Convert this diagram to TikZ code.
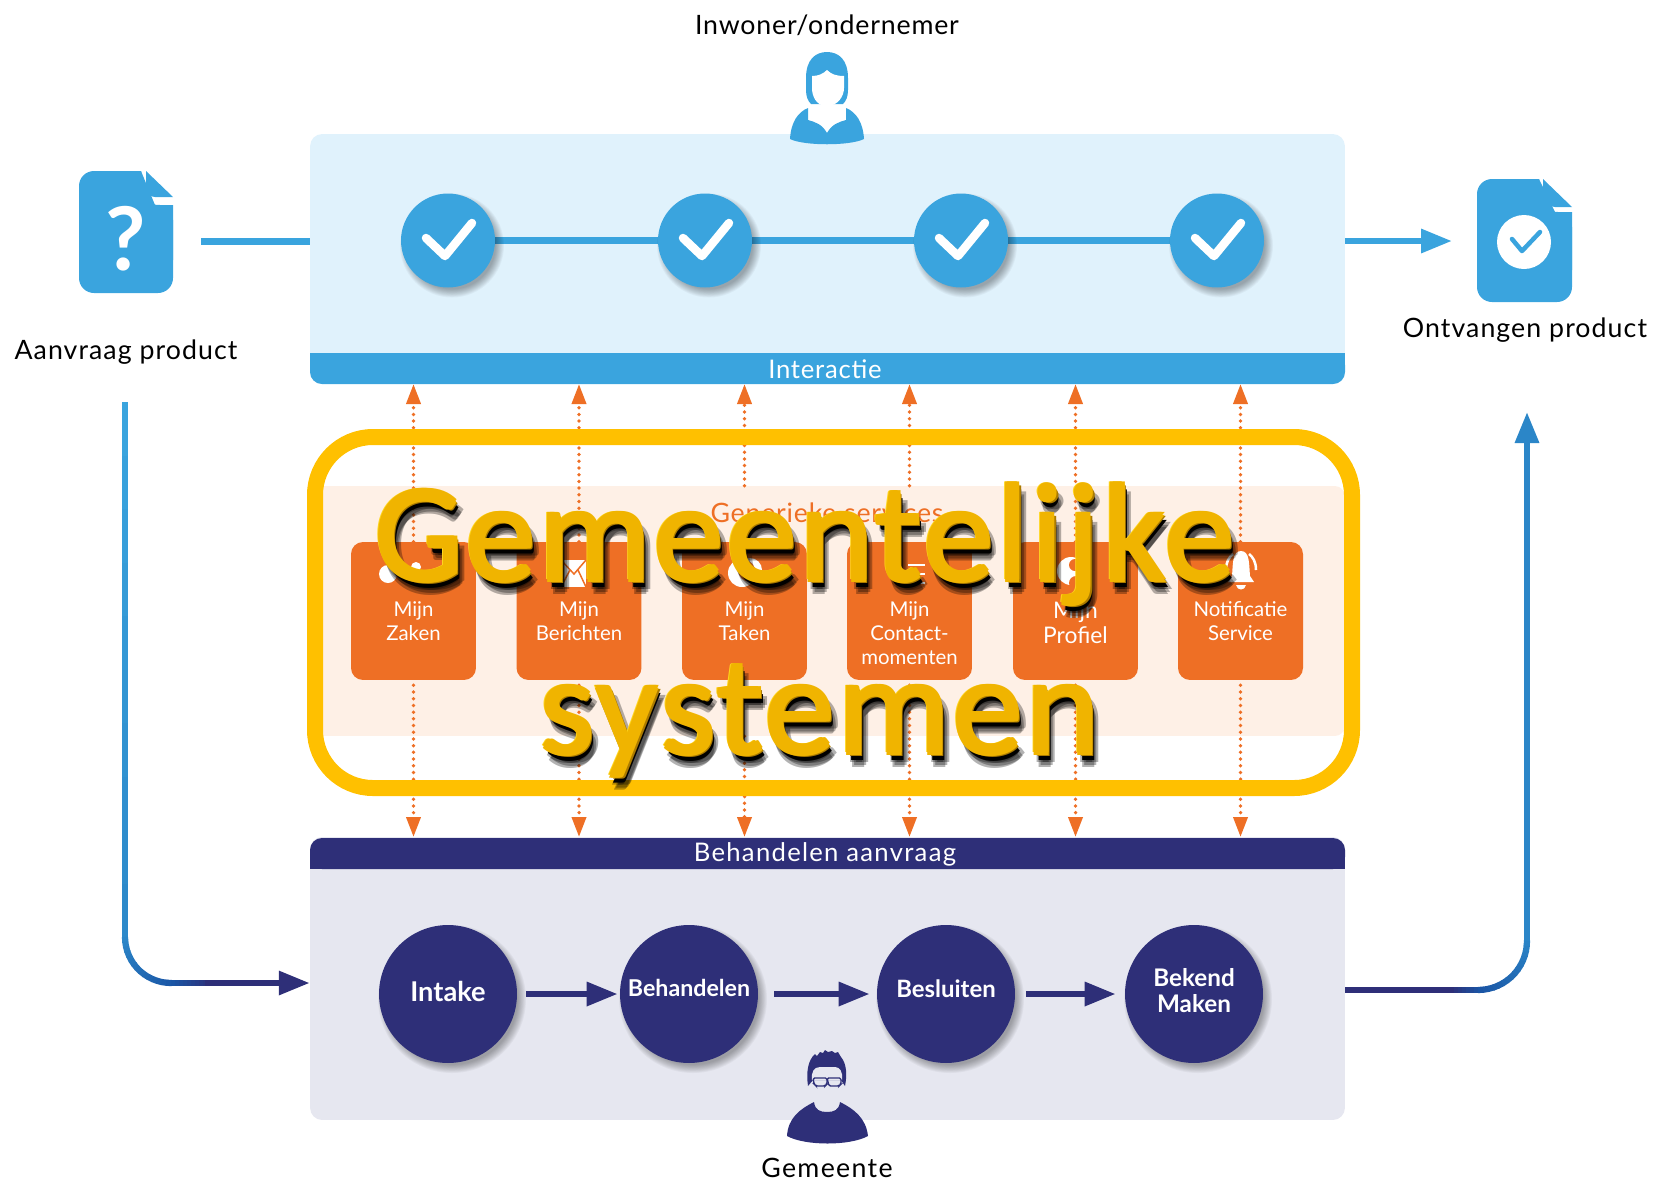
\documentclass[tikz,border=0pt]{standalone}
\usepackage{fontspec}
\setmainfont{Lato}
\newfontfamily\bigfont[LetterSpace=2]{Carlito}
\newfontfamily\sptA[LetterSpace=3]{Lato}
\newfontfamily\sptB[LetterSpace=4]{Lato}
\newfontfamily\sptC[LetterSpace=5]{Lato}
\usetikzlibrary{arrows.meta,calc}
\definecolor{ablue}{HTML}{3AA4DE}
\definecolor{alight}{HTML}{E0F2FC}
\definecolor{anavy}{HTML}{2E2F78}
\definecolor{apale}{HTML}{E6E7F0}
\definecolor{aorange}{HTML}{EE6F25}
\definecolor{apeach}{HTML}{FEF0E6}
\definecolor{agold}{HTML}{FFC000}
\definecolor{amid}{HTML}{2B86C8}
\definecolor{adeep}{HTML}{1A55A5}
\pgfdeclarelayer{background}\pgfdeclarelayer{conn}\pgfdeclarelayer{top}
\pgfsetlayers{background,conn,main,top}
\newcommand{\fs}[1]{\fontsize{#1}{#1}\selectfont}
\tikzset{
  x=0.02cm,y=-0.02cm,
  label text/.style={text=black,font=\fs{15.2},inner sep=0},
  service/.style={rectangle,fill=aorange,rounded corners=0.24cm,minimum width=2.5cm,minimum height=2.76cm,inner sep=0},
  service text/.style={text=white,font=\fs{11.6},align=center,inner sep=0},
  checkdisc/.style={circle,fill=ablue,minimum size=1.88cm,inner sep=0},
  stepdisc/.style={circle,fill=anavy,minimum size=2.76cm,inner sep=0,text=white,align=center,font=\fs{14.2}\bfseries},
  bandtext/.style={text=white,font=\fs{14.6},inner sep=0},
  dotlink/.style={aorange,line width=0.075cm,dash pattern=on 0pt off 0.134cm,line cap=round},
  tip1/.style={-{Triangle[length=0.4cm,width=0.28cm,fill=aorange]}},
  flow/.style={line width=0.125cm},
  bighead/.style={-{Triangle[length=0.62cm,width=0.46cm]}},
  bigtext/.style={font=\bigfont\fs{80},inner sep=0,anchor=base},
}
\newcommand{\softshadow}[3]{% x y r
  \foreach \k in {0,...,9}{
    \fill[black,opacity=0.035] (#1+4,#2+5) circle ({(#3+5-\k*0.9)*0.02cm});
  }
}
\newcommand{\bigword}[4]{% x y text name
  \foreach \dx/\dy in {2/8,6/11,8/8,4/13}{
    \node[bigtext,text=black,text opacity=0.3] at (#1+\dx,#2+\dy) {#3};
  }
  \node[bigtext,text=black] at (#1+3.5,#2+6.5) {#3};
  \node[bigtext,text={rgb,255:red,170;green,122;blue,0}] at (#1+2.6,#2+2.6) {#3};
  \node[bigtext,text={rgb,255:red,255;green,214;blue,30}] at (#1-2.4,#2-2) {#3};
  \foreach \dx/\dy in {-1.4/-1.2,1.4/-1.2,-1.4/1.2}{
    \node[bigtext,text={rgb,255:red,240;green,180;blue,0}] at (#1+\dx,#2+\dy) {#3};
  }
  \node[bigtext,text={rgb,255:red,240;green,180;blue,0}] (#4) at (#1+1.4,#2+1.2) {#3};
}
\begin{document}
\begin{tikzpicture}
\useasboundingbox (0,0) rectangle (1654,1181);

%---------- panels
\begin{pgfonlayer}{background}
\node[rectangle,fill=alight,rounded corners=0.24cm,minimum width=20.7cm,minimum height=5cm,inner sep=0] (interact) at (827.5,259) {};
\node[rectangle,fill=apeach,rounded corners=0.2cm,minimum width=20.7cm,minimum height=5cm,inner sep=0] (generic) at (827.5,611) {};
\node[rectangle,fill=apale,rounded corners=0.24cm,minimum width=20.7cm,minimum height=5.66cm,inner sep=0] (handle) at (827.5,978.5) {};
\fill[ablue,rounded corners=0.24cm] (310,353) -- (310,384) -- (1345,384) -- (1345,353) -- cycle;
\fill[ablue] (310,353) rectangle (1345,365);
\fill[anavy,rounded corners=0.24cm] (310,869) -- (310,838) -- (1345,838) -- (1345,869) -- cycle;
\fill[anavy] (310,869) rectangle (1345,855);
\end{pgfonlayer}
\node[bandtext,font=\sptA\fs{14.6}] (intband) at (825,369) {Interactie};
\node[bandtext,font=\sptC\fs{14.6}] (behband) at (825,854.5) {Behandelen aanvraag};
\coordinate (inttop) at (0,384);
\coordinate (behtop) at (0,837);

%---------- outer labels
\node[label text,font=\sptA\fs{15.2}] (inwoner) at (827,25) {Inwoner/ondernemer};
\node[label text,font=\sptB\fs{15.2}] (aanvraag) at (126,352) {Aanvraag product};
\node[label text,font=\sptB\fs{15.2}] (ontvangen) at (1525,330) {Ontvangen product};
\node[label text,font=\sptC\fs{15.2}] (gemeente) at (827,1168) {Gemeente};
\node[text=aorange,font=\sptA\fs{15.2},inner sep=0] (generiek) at (827,513) {Generieke services};

%---------- check discs
\foreach \n/\x in {1/448,2/705,3/961,4/1217}{
  \node[checkdisc] (c\n) at (\x,240.5) {};
  \draw[white,line width=0.17cm,line cap=round,line join=round]
    (\x-22,240-2) -- (\x-3,240+16) -- (\x+24,240-17);
}

%---------- step discs
\node[stepdisc] (s1) at (448,994) {\raisebox{3pt}{\fs{15.5}Intake}};
\node[stepdisc,font=\fs{13.2}\bfseries] (s2) at (689,994) {\raisebox{6.5pt}{Behandelen}};
\node[stepdisc,font=\fs{13.6}\bfseries] (s3) at (946,994) {\raisebox{6.5pt}{Besluiten}};
\node[stepdisc,font=\fs{13.8}\bfseries] (s4) at (1194,994) {\raisebox{4pt}{\begin{tabular}{@{}c@{}}Bekend\\[0.2pt]Maken\end{tabular}}};

%---------- services
\node[service] (m1) at (413.5,611) {};
\node[service] (m2) at (579,611) {};
\node[service] (m3) at (744.5,611) {};
\node[service] (m4) at (909.5,611) {};
\node[service] (m5) at (1075.5,611) {};
\node[service] (m6) at (1240.5,611) {};
\node[service text] at (413.5,621) {Mijn\\[2.2pt]Zaken};
\node[service text] at (579,621) {Mijn\\[2.2pt]Berichten};
\node[service text] at (744.5,621) {Mijn\\[2.2pt]Taken};
\node[service text] at (909.5,633) {Mijn\\[2.2pt]Contact-\\[2.2pt]momenten};
\node[service text,font=\fs{13}] at (1075.5,622.5) {Mijn\\[1pt]Profiel};
\node[service text] at (1240.5,621) {Notificatie\\[2.2pt]Service};

% service icons (mostly hidden by the heading)
\fill[white] (388,574) circle (0.18cm);
\fill[white] (416,567) circle (0.1cm);
\fill[white] (561,560) rectangle (586,587);
\draw[aorange,line width=0.03cm] (561,560) -- (574,574) -- (586,560) (561,587) -- (570,570) (586,587) -- (578,570);
\fill[white,even odd rule] (742,573) circle (0.28cm) (750,570) circle (0.24cm);
\foreach \yy in {565,574,583}{\fill[white] (908,\yy-1) rectangle (925,\yy+1);}
\fill[white] (1071,571) circle (0.28cm);
\fill[aorange] (1075,565) circle (0.12cm);
\fill[aorange] (1076,583) circle (0.14cm);
\fill[white] (1241,551) .. controls (1232,551) and (1233,565) .. (1232,576) -- (1228,582) -- (1254,582) -- (1250,576) .. controls (1249,565) and (1250,551) .. (1241,551) -- cycle;
\fill[white] (1236,585) .. controls (1237,591) and (1245,591) .. (1246,585) -- cycle;
\draw[white,line width=0.05cm] (1226,570) .. controls (1226,562) and (1229,557) .. (1233,554);
\draw[white,line width=0.05cm] (1256,570) .. controls (1256,562) and (1253,557) .. (1249,554);

%---------- documents
\fill[ablue,rounded corners=0.3cm] (141,171) -- (79,171) -- (79,293) -- (173,293) -- (173,205) -- (155,205);
\fill[ablue] (173,205) -- (160,205) .. controls (148,205) and (141,199) .. (141,190) -- (141,171) -- (110,171) -- (110,260) -- (173,260) -- cycle;
\fill[ablue] (146,171) -- (173,197) -- (155,197) .. controls (150,197) and (146,193) .. (146,188) -- cycle;
\node[text=white,font=\fs{50}\bfseries,inner sep=0] (qmark) at (126,239) {?};

\fill[ablue,rounded corners=0.3cm] (1539,179) -- (1477,179) -- (1477,302) -- (1572,302) -- (1572,212) -- (1555,212);
\fill[ablue] (1572,212) -- (1558,212) .. controls (1546,212) and (1539,206) .. (1539,197) -- (1539,179) -- (1510,179) -- (1510,270) -- (1572,270) -- cycle;
\fill[ablue] (1543,179) -- (1572,207) -- (1555,207) .. controls (1548,207) and (1543,202) .. (1543,195) -- cycle;
\fill[white] (1524,242) circle (0.54cm);
\draw[ablue,line width=0.09cm,line cap=round,line join=round] (1512,239) -- (1522,251) -- (1540,232);

%---------- persons
\fill[ablue] (806,78) .. controls (806,60) and (815,52) .. (827,52) .. controls (839,52) and (848,60) .. (848,78) -- (848,90) .. controls (848,97) and (846,101) .. (843,104) -- (811,104) .. controls (808,101) and (806,97) .. (806,90) -- cycle;
\fill[white] (812,76) .. controls (818,76) and (823,74) .. (827,70) .. controls (831,74) and (836,76) .. (844,76) -- (844,88) .. controls (844,96) and (838,106) .. (827,106) .. controls (816,106) and (812,96) .. (812,88) -- cycle;
\fill[ablue] (790,139) .. controls (791,122) and (798,112) .. (808,108) -- (808,120) .. controls (815,122) and (822,124) .. (827,133) .. controls (832,124) and (839,122) .. (846,120) -- (846,108) .. controls (856,112) and (863,122) .. (864,139) .. controls (850,146) and (804,146) .. (790,139) -- cycle;

\fill[anavy] (808,1086) .. controls (806,1072) and (808,1060) .. (815,1054) -- (817,1056) -- (820,1052) -- (823,1053) -- (825,1050) -- (828,1052) -- (832,1051) -- (835,1053) -- (838,1052) -- (841,1057) .. controls (847,1064) and (847,1076) .. (845,1086) -- (841,1080) -- (813,1080) -- cycle;
\fill[apale] (812,1080) .. controls (811,1072) and (814,1067) .. (820,1067) -- (835,1067) .. controls (840,1067) and (843,1072) .. (842,1080) -- cycle;
\draw[anavy,line width=0.028cm,rounded corners=0.03cm] (813,1078) -- (827,1078) -- (827,1084) -- (825,1086) -- (816,1086) -- (814,1084) -- cycle;
\draw[anavy,line width=0.028cm,rounded corners=0.03cm] (841,1078) -- (827,1078) -- (829,1086) -- (839,1086) -- (841,1084) -- cycle;
\fill[anavy] (787,1136) .. controls (788,1118) and (800,1109) .. (814,1102) .. controls (815,1110) and (820,1112) .. (827,1112) .. controls (834,1112) and (839,1110) .. (840,1102) .. controls (854,1109) and (866,1118) .. (868,1136) .. controls (850,1146) and (805,1146) .. (787,1136) -- cycle;

%---------- connectors
\begin{pgfonlayer}{conn}
\coordinate (inleft) at (201,241);
\draw[ablue,line width=0.14cm] (inleft) -- (interact.west |- inleft);
\draw[ablue,line width=0.14cm] (c1) -- (c2);
\draw[ablue,line width=0.14cm] (c2) -- (c3);
\draw[ablue,line width=0.14cm] (c3) -- (c4);
\coordinate (outtip) at (1452,241);
\draw[ablue,flow,bighead] (interact.east |- outtip) -- (outtip);
\foreach \n/\x in {1/448,2/705,3/961,4/1217}{\softshadow{\x}{240.5}{47}}
\end{pgfonlayer}
\begin{pgfonlayer}{background}
\foreach \n/\x/\y in {1/448/994,2/689/994,3/946/994,4/1194/994}{\softshadow{\x}{\y}{69}}
\end{pgfonlayer}
\draw[anavy,flow,bighead,shorten <=0.18cm,shorten >=0.04cm] (s1) -- (s2);
\draw[anavy,flow,bighead,shorten <=0.32cm,shorten >=0.14cm] (s2) -- (s3);
\draw[anavy,flow,bighead,shorten <=0.22cm,shorten >=0.18cm] (s3) -- (s4);

% dotted service links
\begin{pgfonlayer}{conn}
\foreach \n in {1,2,5,6}{
  \draw[dotlink,tip1] (m\n.north) -- (m\n.north |- inttop);
}
\foreach \n in {3,4}{
  \coordinate (g\n) at (m\n.north |- generic.north);
  \draw[dotlink,tip1] (g\n) -- (m\n.north |- inttop);
}
\foreach \n in {1,2,4,5,6}{
  \draw[dotlink,tip1,shorten <=0.1cm] (m\n.south) -- (m\n.south |- behtop);
}
\coordinate (g3b) at (m3.south |- generic.south);
\draw[dotlink,tip1] (g3b) -- (m3.south |- behtop);
\end{pgfonlayer}

% in and out flows with colour transitions
\coordinate (lstart) at (125,402);
\foreach \t in {0,10,...,90}{
  \pgfmathsetmacro{\ya}{402+5.35*\t}
  \pgfmathsetmacro{\yb}{402+5.35*(\t+10)+0.5}
  \pgfmathtruncatemacro{\mx}{100-\t}
  \draw[color=ablue!\mx!amid,line width=0.125cm] (125,\ya) -- (125,\yb);
}
\foreach \a in {0,6,...,84}{
  \pgfmathtruncatemacro{\mx}{100-\a*100/90}
  \draw[color=amid!\mx!adeep,line width=0.125cm] ({171-46*cos(\a)},{937+46*sin(\a)}) -- ({171-46*cos(\a+7)},{937+46*sin(\a+7)});
}
\foreach \t in {0,4,...,36}{
  \pgfmathtruncatemacro{\mx}{100-\t*100/40}
  \draw[color=adeep!\mx!anavy,line width=0.125cm] (171+\t,983) -- (171+\t+4.5,983);
}
\coordinate (lcorner) at (205,983);
\draw[anavy,flow,bighead] (lcorner) -- (handle.west |- lcorner);

\coordinate (rstart) at (1345,990);
\draw[anavy,flow] (rstart) -- (1450,990);
\foreach \t in {0,4,...,24}{
  \pgfmathtruncatemacro{\mx}{100-\t*100/28}
  \draw[color=anavy!\mx!adeep,line width=0.125cm] (1450+\t,990) -- (1450+\t+4.5,990);
}
\foreach \a in {0,6,...,84}{
  \pgfmathtruncatemacro{\mx}{100-\a*100/90}
  \draw[color=adeep!\mx!amid,line width=0.125cm] ({1478+49*sin(\a)},{941+49*cos(\a)}) -- ({1478+49*sin(\a+7)},{941+49*cos(\a+7)});
}
\coordinate (rcorner) at (1527,941);
\coordinate (rtip) at (1527,412);
\draw[amid,flow,bighead] (rcorner) -- (rtip);

%---------- frame and heading
\begin{pgfonlayer}{top}
\draw[agold,line width=0.32cm,rounded corners=1.16cm] (315,437) rectangle (1352,788);
\bigword{805}{581}{Gemeentelijke}{hone}
\bigword{820}{754}{systemen}{htwo}
\end{pgfonlayer}
\end{tikzpicture}
\end{document}
